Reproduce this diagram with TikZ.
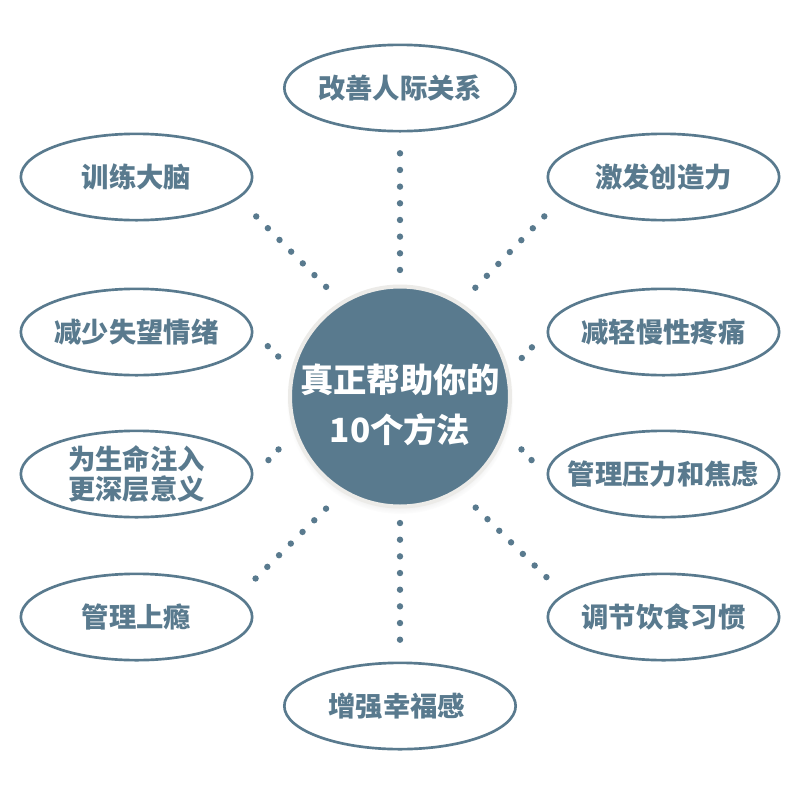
\documentclass[tikz,border=0pt]{standalone}
\usepackage{fontspec}
\newfontfamily\cjk{Noto Sans CJK SC}
\usetikzlibrary{shapes.geometric,shadows}
\definecolor{slate}{RGB}{89,122,142}
\definecolor{ringgrey}{RGB}{236,235,232}

\begin{document}
\begin{tikzpicture}[x=0.75pt, y=-0.75pt,
    bubble/.style={ellipse, draw=slate, line width=2pt, fill=white, text=slate,
        minimum width=173.5pt, minimum height=64.75pt, inner xsep=-12pt, inner ysep=0pt,
        align=center, font=\cjk\bfseries\fontsize{20.5}{22.5}\selectfont},
    hub/.style={circle, fill=slate, draw=ringgrey, line width=3pt, minimum size=165pt,
        circular drop shadow={shadow xshift=0pt, shadow yshift=-3pt, opacity=.25, shadow scale=1.03}},
    hubtext/.style={text=white, align=center, font=\cjk\bfseries\fontsize{25}{37.5}\selectfont},
    dots/.style={slate, line width=4.8pt, line cap=round, dash pattern=on 0pt off #1}]

        % Canvas
        \useasboundingbox[fill=white] (0,0) rectangle (800,800);

        % Central circle
        \node[hub] (hub) at (400,396.5) {};
        \node[hubtext] (title) at (400,405) {真正帮助你的\\10个方法};

        % Outer bubbles
        \foreach \name/\x/\y/\txt in {
            rel/400/88/改善人际关系,
            brain/136.5/177/训练大脑,
            create/663.5/177/激发创造力,
            disap/136.5/332/减少失望情绪,
            pain/663.5/332/减轻慢性疼痛,
            meaning/136.5/474/{为生命注入\\更深层意义},
            stress/663.5/474/管理压力和焦虑,
            addict/136.5/617/管理上瘾,
            diet/663.5/617/调节饮食习惯,
            happy/400/706/增强幸福感
        } {
            \node[bubble] (\name) at (\x,\y) {\txt};
        }

        % Dotted connectors
        \draw[dots=12.5pt, shorten <=10.9pt, shorten >=14.6pt] (hub.north) -- (rel.south);
        \draw[dots=12.5pt, shorten <=10.9pt, shorten >=16.1pt] (hub.south) -- (happy.north);
        \draw[dots=12.4pt, shorten <=15.5pt, shorten >=18.2pt] (hub.122.6) -- (brain.-12.5);
        \draw[dots=12.4pt, shorten <=15.5pt, shorten >=18.2pt] (hub.57.4) -- (create.192.5);
        \draw[dots=12.4pt, shorten <=17.2pt, shorten >=16.9pt] (hub.-121.7) -- (addict.12.3);
        \draw[dots=12.4pt, shorten <=17.2pt, shorten >=16.9pt] (hub.-58.3) -- (diet.167.7);
        \draw[dots=11pt, shorten <=13.8pt, shorten >=14.2pt] (hub.166.8) -- (disap.0);
        \draw[dots=11pt, shorten <=13.8pt, shorten >=14.2pt] (hub.13.2) -- (pain.180);
        \draw[dots=11pt, shorten <=17pt, shorten >=15.2pt] (hub.-161) -- (meaning.-1);
        \draw[dots=11pt, shorten <=17pt, shorten >=15.2pt] (hub.-19) -- (stress.181);
    \end{tikzpicture}
\end{document}
